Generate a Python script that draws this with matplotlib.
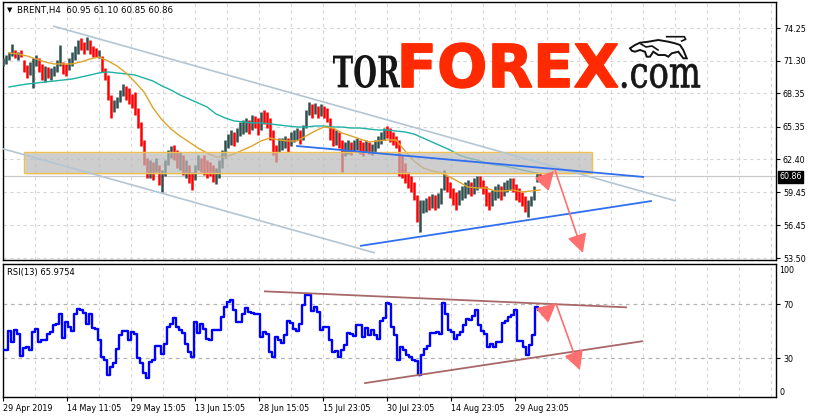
import numpy as np
import matplotlib
matplotlib.use("Agg")
import matplotlib.pyplot as plt
from matplotlib.textpath import TextPath
from matplotlib.font_manager import FontProperties
from matplotlib.patches import PathPatch, Rectangle, Polygon
from matplotlib.transforms import Affine2D

# ---------------- data ----------------
symbol = "BRENT,H4"
header_ohlc = [60.95, 61.10, 60.85, 60.86]
last_price = 60.86
rsi_period = 13
rsi_last = 65.9754

price_ticks = [74.25, 71.30, 68.35, 65.35, 62.40, 59.45, 56.45, 53.50]
rsi_ticks = [70, 30]
rsi_edge_labels = ["100", "0"]
date_labels = ["29 Apr 2019", "14 May 11:05", "29 May 15:05", "13 Jun 15:05",
               "28 Jun 15:05", "15 Jul 23:05", "30 Jul 23:05", "14 Aug 23:05",
               "29 Aug 23:05"]

bar_high = [
    71.55, 71.82, 72.09, 72.81, 72.27, 72.09, 72.27, 71.37, 70.92, 71.19,
    71.55, 71.82, 71.55, 71.01, 70.83, 70.74, 70.65, 70.83, 71.37, 72.72,
    71.19, 71.01, 71.55, 72.09, 72.63, 73.17, 73.35, 72.99, 73.44, 73.17,
    72.63, 72.45, 72.27, 71.73, 70.65, 70.01, 68.21, 67.76, 68.03, 68.66,
    69.20, 69.02, 68.84, 68.30, 68.48, 67.04, 65.78, 64.15, 62.53, 62.35,
    62.17, 62.53, 61.90, 61.45, 62.35, 63.25, 63.61, 63.70, 63.25, 63.07,
    62.80, 62.35, 61.90, 61.27, 61.90, 62.80, 62.53, 62.80, 62.35, 62.17,
    61.90, 61.63, 62.35, 63.25, 64.15, 64.69, 65.05, 64.87, 65.23, 65.78,
    65.96, 66.14, 65.96, 66.41, 66.32, 66.14, 66.68, 66.86, 66.68, 66.14,
    65.05, 63.70, 64.33, 64.33, 64.51, 64.33, 64.87, 65.05, 65.23, 65.05,
    65.50, 66.86, 67.58, 67.40, 67.49, 67.22, 67.40, 67.22, 67.04, 66.14,
    65.23, 65.05, 64.87, 64.15, 63.97, 64.15, 63.97, 64.15, 64.33, 64.15,
    63.97, 64.15, 63.97, 63.79, 64.15, 64.51, 64.87, 65.23, 65.41, 65.23,
    64.87, 64.51, 64.15, 62.80, 62.08, 61.27, 60.90, 60.36, 59.19, 58.74,
    58.74, 58.92, 59.10, 59.28, 59.19, 59.37, 59.82, 61.45, 60.90, 60.36,
    59.82, 59.46, 59.64, 60.00, 60.36, 60.54, 60.36, 60.72, 60.90, 60.90,
    60.54, 60.00, 59.46, 59.64, 60.00, 60.18, 60.00, 60.36, 60.54, 60.72,
    60.72, 60.18, 59.82, 59.46, 59.10, 58.74, 59.10, 60.00, 61.27, 61.18]

bar_low = [
    70.83, 71.01, 71.37, 71.73, 71.55, 71.37, 71.64, 70.29, 69.74, 70.01,
    68.84, 70.83, 70.29, 69.56, 69.38, 69.74, 69.56, 69.92, 70.29, 70.83,
    70.11, 69.92, 70.47, 70.83, 71.37, 71.91, 72.27, 71.91, 72.27, 71.91,
    71.64, 71.64, 71.55, 70.29, 69.56, 67.76, 66.14, 66.68, 67.04, 67.58,
    68.12, 67.76, 67.40, 67.04, 66.41, 65.23, 63.61, 61.90, 60.72, 60.72,
    60.54, 61.27, 60.09, 59.46, 60.90, 61.90, 62.53, 62.35, 61.63, 61.45,
    60.99, 60.72, 60.27, 59.64, 60.54, 61.45, 61.27, 60.99, 60.72, 60.90,
    60.36, 60.18, 60.72, 61.63, 62.53, 63.43, 63.70, 63.61, 63.97, 64.51,
    64.69, 64.87, 64.69, 65.05, 65.23, 64.60, 65.05, 65.60, 65.23, 64.15,
    62.80, 62.17, 63.07, 63.25, 63.43, 63.07, 63.61, 63.97, 64.15, 63.79,
    64.15, 65.23, 66.41, 66.14, 66.50, 66.14, 66.32, 66.14, 65.78, 64.15,
    63.61, 63.70, 63.43, 61.27, 62.71, 62.89, 62.80, 63.07, 63.25, 62.89,
    62.71, 63.07, 62.89, 62.80, 63.07, 63.43, 63.79, 64.15, 64.33, 63.97,
    63.70, 63.43, 60.90, 60.72, 60.27, 59.82, 59.46, 58.74, 56.76, 55.85,
    57.57, 57.66, 57.84, 58.02, 57.84, 58.02, 58.38, 59.64, 59.46, 58.92,
    58.29, 57.84, 58.29, 58.74, 58.92, 59.28, 59.10, 59.28, 59.64, 59.82,
    59.28, 58.20, 57.84, 58.20, 58.74, 58.92, 58.74, 59.10, 59.46, 59.64,
    59.46, 58.74, 58.56, 58.20, 57.66, 57.21, 58.20, 58.74, 60.36, 60.36]

bar_close = [
    71.19, 71.64, 71.91, 72.27, 71.82, 72.00, 71.73, 70.47, 70.29, 70.83,
    71.19, 71.55, 70.65, 70.01, 70.47, 69.92, 70.29, 70.47, 71.01, 71.37,
    70.65, 70.47, 71.19, 71.73, 72.27, 72.81, 72.63, 72.45, 72.99, 72.27,
    72.09, 71.82, 72.09, 70.47, 70.01, 68.21, 66.68, 67.40, 67.76, 68.21,
    68.84, 68.48, 67.94, 67.76, 66.86, 65.78, 64.15, 62.35, 61.27, 61.90,
    60.99, 61.63, 60.54, 60.72, 61.90, 62.80, 63.25, 62.89, 62.17, 62.35,
    61.63, 61.90, 60.99, 60.09, 61.45, 62.35, 61.90, 61.63, 61.45, 61.27,
    60.72, 60.90, 61.90, 62.80, 63.70, 64.15, 64.51, 64.15, 64.87, 65.23,
    65.50, 65.60, 65.23, 65.96, 65.78, 65.05, 66.32, 65.96, 65.50, 64.60,
    63.25, 63.07, 63.70, 63.97, 64.15, 63.43, 64.33, 64.69, 64.87, 64.33,
    65.23, 66.50, 67.22, 66.86, 67.04, 66.68, 67.04, 66.50, 66.14, 64.60,
    64.15, 64.33, 63.97, 63.25, 63.43, 63.61, 63.25, 63.79, 63.97, 63.43,
    63.25, 63.61, 63.25, 63.43, 63.97, 64.15, 64.51, 65.05, 64.87, 64.51,
    64.15, 63.97, 62.35, 61.45, 60.72, 60.36, 59.82, 59.19, 57.39, 58.20,
    58.29, 58.47, 58.29, 58.74, 58.38, 58.92, 59.46, 60.72, 60.00, 59.46,
    58.74, 58.29, 59.10, 59.64, 60.00, 60.00, 59.64, 60.36, 60.54, 60.36,
    59.64, 58.74, 58.38, 59.10, 59.46, 59.64, 59.28, 60.00, 60.36, 60.54,
    60.18, 59.28, 59.10, 58.74, 58.20, 58.38, 58.92, 59.82, 60.90, 60.86]

rsi_values = [
    36.1, 36.0, 50.0, 42.0, 51.0, 48.0, 32.0, 38.0, 38.5, 36.0,
    49.6, 52.0, 42.0, 43.5, 44.0, 48.0, 49.6, 54.5, 55.7, 63.0,
    45.0, 57.0, 53.0, 50.0, 63.0, 66.8, 65.6, 63.5, 55.7, 63.0,
    52.5, 51.6, 43.5, 31.0, 28.7, 17.7, 23.8, 27.0, 37.3, 47.0,
    50.3, 50.3, 43.5, 49.4, 48.4, 30.2, 26.8, 18.9, 15.2, 27.5,
    28.5, 39.0, 39.0, 33.6, 41.0, 53.0, 55.2, 60.2, 53.3, 50.8,
    48.6, 41.0, 34.9, 31.2, 57.0, 49.0, 55.2, 51.8, 44.2, 43.5,
    50.8, 50.8, 50.8, 60.7, 68.0, 71.7, 73.4, 65.6, 57.0, 57.0,
    62.6, 67.5, 64.3, 63.6, 63.0, 62.6, 45.9, 49.6, 48.4, 34.9,
    31.2, 45.9, 44.0, 41.5, 47.1, 57.5, 56.2, 51.6, 50.3, 55.7,
    69.3, 76.6, 76.6, 64.8, 68.0, 64.6, 50.8, 53.3, 53.3, 43.5,
    34.6, 35.6, 31.2, 36.6, 39.8, 48.9, 47.9, 46.4, 55.0, 54.5,
    45.9, 52.6, 47.1, 51.3, 47.1, 44.7, 57.7, 59.9, 71.0, 70.5,
    53.3, 47.1, 28.7, 38.1, 36.1, 32.2, 31.2, 29.2, 28.2, 17.7,
    32.4, 37.3, 39.0, 49.0, 49.0, 49.4, 47.9, 71.0, 63.1, 50.8,
    49.6, 44.7, 47.1, 49.6, 54.5, 59.2, 58.2, 61.2, 65.6, 54.5,
    50.1, 47.9, 38.6, 41.0, 38.6, 42.2, 42.2, 56.5, 57.7, 60.7,
    61.9, 65.6, 43.0, 43.0, 38.6, 32.4, 39.8, 47.1, 68.0, 66.0]

# moving averages, one reading every third bar (starting at the third bar)
ma_fast = [
    72.00, 71.91, 71.73, 71.46, 71.19, 71.01, 71.01, 71.01, 71.19, 71.46,
    71.64, 71.28, 70.83, 70.20, 69.38, 68.48, 67.04, 65.96, 65.14, 64.51,
    63.97, 63.43, 62.98, 62.62, 62.62, 62.89, 63.25, 63.61, 64.06, 64.33,
    64.15, 64.06, 64.06, 64.51, 64.96, 65.32, 65.23, 64.78, 64.51, 64.24,
    63.97, 64.06, 64.15, 64.15, 63.16, 62.26, 61.63, 61.36, 61.18, 60.81,
    60.36, 59.91, 59.82, 59.82, 59.55, 59.55, 59.64, 59.46, 59.55, 59.64]
ma_slow = [
    68.93, 69.07, 69.20, 69.29, 69.38, 69.47, 69.56, 69.65, 69.83, 70.01,
    70.20, 70.29, 70.20, 70.11, 70.01, 69.74, 69.47, 69.02, 68.66, 68.21,
    67.85, 67.49, 67.13, 66.50, 66.14, 65.87, 65.78, 65.69, 65.69, 65.60,
    65.50, 65.41, 65.32, 65.32, 65.41, 65.41, 65.32, 65.32, 65.23, 65.23,
    65.14, 65.05, 65.05, 64.96, 64.87, 64.69, 64.33, 63.97, 63.61, 63.25,
    62.80, 62.53, 62.35, 62.08, 61.90, 61.81, 61.63, 61.45, 61.27, 61.09]

# drawn objects (bar index, value)
zone = dict(x0=7.0, x1=196.3, lo=61.15, hi=63.04)
channel_upper = ([16.7, 224.3], [74.43, 58.65])
channel_lower = ([-1.0, 124.0], [63.43, 53.96])
blue_upper = ([97.7, 213.7], [63.61, 60.81])
blue_lower = ([119.0, 216.3], [54.59, 58.65])
arrow_small = ((179.7, 60.18), (183.7, 61.36))
arrow_big = ((184.0, 61.45), (193.3, 53.96))
rsi_line_upper = ([87.3, 207.7], [79.6, 67.8])
rsi_line_lower = ([120.7, 213.0], [11.8, 42.7])
rsi_arrow_small = ((179.7, 61.9), (184.3, 70.7))
rsi_arrow_big = ((184.3, 70.7), (192.3, 21.4))

# ---------------- figure ----------------
W, H = 815, 419
fig = plt.figure(figsize=(W / 100, H / 100), dpi=100)
fig.patch.set_facecolor("white")
plt.rcParams["font.family"] = ["DejaVu Sans"]


def pbox(x0, y0, x1, y1):
    return [x0 / W, 1 - y1 / H, (x1 - x0) / W, (y1 - y0) / H]


ax = fig.add_axes(pbox(2.5, 2, 776, 260))
ax2 = fig.add_axes(pbox(2.5, 263.5, 776, 397))

n = len(bar_close)
idx = np.arange(n)
XL = (-0.17, 257.67)
grid_pos = np.arange(1, 25) * 32 / 3.0
date_pos = np.arange(len(date_labels)) * 64 / 3.0
grid_kw = dict(color="#d6d6d6", lw=0.8, ls=(0, (3, 3)))

for a in (ax, ax2):
    a.set_xlim(*XL)
    for s in a.spines.values():
        s.set_color("black")
        s.set_linewidth(1.0)
    for gx in grid_pos:
        a.axvline(gx, zorder=0, **grid_kw)

# ---- main price panel ----
ax.set_ylim(53.32, 76.6)
ax.set_xticks([])
ax.yaxis.tick_right()
ax.set_yticks(price_ticks)
ax.set_yticklabels([f"{v:.2f}" for v in price_ticks], fontsize=5.8)
ax.tick_params(axis="y", direction="out", length=3, width=0.8, pad=2)
for p in price_ticks:
    ax.axhline(p, zorder=0, **grid_kw)
ax.axhline(last_price, color="#c8c8c8", lw=0.9, zorder=1)

close = np.array(bar_close)
prev = np.r_[close[0], close[:-1]]
cols = np.where(close >= prev, "#2f4f4f", "#ff0000")
ax.vlines(idx, bar_low, bar_high, colors=cols, lw=1.8, zorder=3)

ma_idx = 2 + 3 * np.arange(len(ma_fast))
ax.plot(ma_idx, ma_slow, color="#1fb0a6", lw=1.0, zorder=4)
ax.plot(ma_idx, ma_fast, color="#dea42a", lw=1.0, zorder=4)

ax.add_patch(Rectangle((zone["x0"] + 0.5, zone["lo"] - 0.12),
                       zone["x1"] - zone["x0"], zone["hi"] - zone["lo"],
                       fc=(0.5, 0.5, 0.5), alpha=0.15, ec="none", zorder=4.9))
ax.add_patch(Rectangle((zone["x0"], zone["lo"]), zone["x1"] - zone["x0"],
                       zone["hi"] - zone["lo"], fc=(0.75, 0.75, 0.75),
                       alpha=0.65, ec="none", zorder=5))
ax.add_patch(Rectangle((zone["x0"], zone["lo"]), zone["x1"] - zone["x0"],
                       zone["hi"] - zone["lo"], fill=False, ec="#f0c050",
                       lw=1.0, zorder=5.1))

for xs, ys in (channel_upper, channel_lower):
    ax.plot(xs, ys, color="#b2c6d4", lw=1.2, zorder=6, solid_capstyle="butt")
for xs, ys in (blue_upper, blue_lower):
    ax.plot(xs, ys, color="#2f6ff0", lw=1.3, zorder=6, solid_capstyle="butt")

arrow_kw = dict(arrowstyle="-|>,head_length=0.95,head_width=0.5",
                color="#ff6f6f", lw=1.2, mutation_scale=12,
                shrinkA=0, shrinkB=0)
for a_, (p0, p1) in ((ax, arrow_small), (ax, arrow_big),
                     (ax2, rsi_arrow_small), (ax2, rsi_arrow_big)):
    a_.annotate("", xy=p1, xytext=p0, arrowprops=arrow_kw, zorder=7)

# ---- RSI panel ----
ax2.set_ylim(1.5, 100.2)
ax2.yaxis.tick_right()
ax2.set_yticks(rsi_ticks)
ax2.set_yticklabels([str(v) for v in rsi_ticks], fontsize=5.8)
ax2.tick_params(axis="y", direction="out", length=3, width=0.8, pad=2)
for lv in rsi_ticks:
    ax2.axhline(lv, color="#b4b4b4", lw=0.9, ls=(0, (3, 3)), zorder=1)
ax2.set_xticks(date_pos)
ax2.set_xticklabels(date_labels, fontsize=5.8, ha="left")
ax2.tick_params(axis="x", direction="out", length=3, width=0.8, pad=2)

ax2.plot(idx, rsi_values, color="#0000ff", lw=1.7, zorder=4,
         drawstyle="steps-mid")
for xs, ys in (rsi_line_upper, rsi_line_lower):
    ax2.plot(xs, ys, color="#a86868", lw=1.3, zorder=5)

# ---- overlay for texts / logo (pixel coordinates) ----
ov = fig.add_axes([0, 0, 1, 1], facecolor="none")
ov.set_xlim(0, W)
ov.set_ylim(H, 0)
ov.axis("off")

ov.text(9.5, 10.5, "\u25bc", fontsize=5, ha="center", va="center")
ov.text(17, 10.5, f"{symbol}  " + " ".join(f"{v:.2f}" for v in header_ohlc),
        fontsize=6.2, ha="left", va="center")
ov.text(7, 272.5, f"RSI({rsi_period}) {rsi_last:.4f}", fontsize=6.0,
        ha="left", va="center")
ov.text(779.5, 270, rsi_edge_labels[0], fontsize=5.8, ha="left", va="center")
ov.text(779.5, 392, rsi_edge_labels[1], fontsize=5.8, ha="left", va="center")
ov.text(779.5, 176.7, f"{last_price:.2f}", fontsize=5.8, color="white",
        ha="left", va="center",
        bbox=dict(boxstyle="square,pad=0.18", fc="black", ec="black"))


def fit_text(s, x0, y0, x1, y1, prop, color, lw=0.0):
    tp = TextPath((0, 0), s, size=50, prop=prop)
    e = tp.get_extents()
    tr = (Affine2D().translate(-e.x0, -e.y0)
          .scale((x1 - x0) / e.width, -(y1 - y0) / e.height)
          .translate(x0, y1))
    ov.add_patch(PathPatch(tr.transform_path(tp), fc=color,
                           ec=color if lw else "none", lw=lw))


fit_text("TOR", 333, 55, 400, 88,
         FontProperties(family="DejaVu Serif", weight="bold"), "#161616")
fit_text("FOREX", 402, 43, 618, 88,
         FontProperties(family="DejaVu Sans", weight="bold"), "#ff2a00", lw=1.0)
fit_text(".com", 622, 64, 700, 88,
         FontProperties(family="DejaVu Serif"), "#161616", lw=0.5)

# small bull emblem (line art)
bull = [(630, 48.3), (635, 45), (640, 42.7), (648.3, 41.7), (658.3, 40),
        (668.3, 41.7), (675, 43.3), (680, 45), (683.3, 50), (686.7, 58.3),
        (683.3, 58.3), (678.3, 51.7), (671.7, 53.3), (668.3, 56.7),
        (665, 55), (658.3, 55), (653.3, 51.7), (650, 56.7), (646.7, 56.7),
        (645, 51.7), (640, 50), (635, 51.7), (631.7, 50.7)]
ov.add_patch(Polygon(bull, closed=True, fc="white", ec="#111111", lw=1.4))
ov.plot([666.7, 684.3, 685.7, 681.7], [36.7, 36.7, 39.3, 41.0],
        color="#111111", lw=1.2)
ov.plot([641, 646, 652, 658], [44, 47, 46, 50], color="#111111", lw=1.2)

fig.savefig("out.png", dpi=100)
